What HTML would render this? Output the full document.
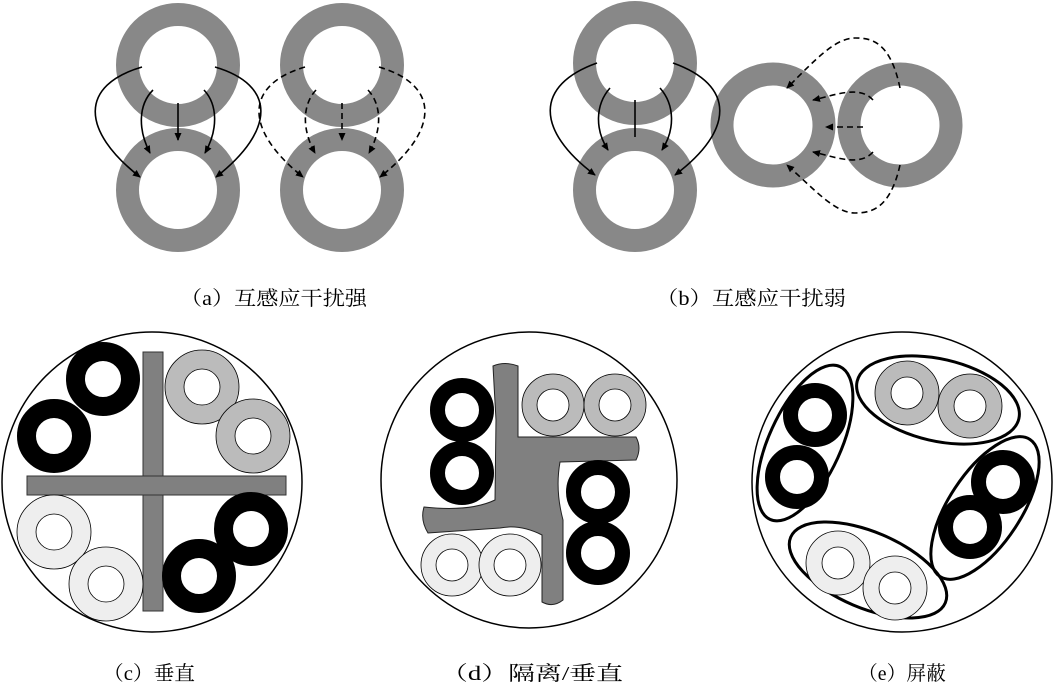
<!DOCTYPE html>
<html><head><meta charset="utf-8"><style>html,body{margin:0;padding:0;background:#fff}svg{display:block}</style></head>
<body>
<svg width="1053" height="686" viewBox="0 0 1053 686" xmlns="http://www.w3.org/2000/svg">
<defs>
<marker id="ah" markerWidth="8" markerHeight="8" refX="7" refY="4" orient="auto" markerUnits="userSpaceOnUse">
<path d="M0,0.5 L8,4 L0,7.5 z" fill="#000"/></marker>
</defs>
<g fill="none" stroke="#888" stroke-width="23">
<circle cx="178" cy="65" r="50.5"/><circle cx="178" cy="190" r="50.5"/>
<circle cx="342" cy="65" r="50.5"/><circle cx="342" cy="190" r="50.5"/>
<circle cx="635" cy="63" r="50.5"/><circle cx="635" cy="190" r="50.5"/>
<circle cx="773" cy="125" r="51"/><circle cx="900" cy="125" r="51"/>
</g>
<g fill="none" stroke="#000" stroke-width="1.6" marker-end="url(#ah)">
<path d="M142,67 C80,85 80,130 140,177"/>
<path d="M153,90 C138,105 138,130 150,153"/>
<path d="M178,103 L178,140"/>
<path d="M204,90 C218,105 218,130 205,153"/>
<path d="M215,67 C276,85 276,130 216,177"/>
<path d="M597,63 C535,85 535,130 595,175"/>
<path d="M610,88 C595,105 595,130 608,150"/>
<path d="M660,88 C675,105 675,130 662,150"/>
<path d="M673,63 C735,85 735,130 675,175"/>
</g>
<path d="M635,100 L635,137" stroke="#000" stroke-width="1.6"/>
<g fill="none" stroke="#000" stroke-width="1.6" stroke-dasharray="6,4" marker-end="url(#ah)">
<path d="M305,67 C244,85 244,130 303,177"/>
<path d="M316,90 C302,105 302,130 315,153"/>
<path d="M342,103 L342,140"/>
<path d="M368,90 C382,105 382,130 369,153"/>
<path d="M379,67 C440,85 440,130 380,177"/>
<path d="M900,88 C890,40 870,38 855,38 C835,38 815,60 787,88"/>
<path d="M873,100 C860,85 835,95 813,100"/>
<path d="M863,127 L826,127"/>
<path d="M873,152 C860,167 835,157 813,152"/>
<path d="M900,165 C890,210 870,213 855,213 C835,213 815,190 787,165"/>
</g>
<g font-family="'Liberation Serif','Noto Serif CJK SC',serif" font-size="20" fill="#000">
<text x="180" y="305" textLength="187" lengthAdjust="spacingAndGlyphs">（a）互感应干扰强</text>
<text x="656" y="305" textLength="190" lengthAdjust="spacingAndGlyphs">（b）互感应干扰弱</text>
<text x="103" y="680" textLength="92" lengthAdjust="spacingAndGlyphs">（c）垂直</text>
<text x="441" y="680" textLength="182" lengthAdjust="spacingAndGlyphs">（d）隔离/垂直</text>
<text x="858" y="680" textLength="88" lengthAdjust="spacingAndGlyphs">（e）屏蔽</text>
</g>
<!-- (c) -->
<circle cx="152" cy="482" r="150" fill="#fff" stroke="#000" stroke-width="1.5"/>
<rect x="143" y="352" width="20" height="259" fill="#808080" stroke="#333" stroke-width="1"/>
<rect x="27" y="476" width="259" height="19" fill="#808080" stroke="#333" stroke-width="1"/>
<rect x="143.5" y="476.5" width="19" height="18" fill="#808080"/>
<g fill="none" stroke="#000" stroke-width="19">
<circle cx="103" cy="379" r="27.5"/><circle cx="54" cy="436" r="27.5"/>
<circle cx="251" cy="529" r="27.5"/><circle cx="199" cy="576" r="27.5"/>
</g>
<g stroke="#000" stroke-width="0.8">
<circle cx="202" cy="387" r="37" fill="#bbb"/><circle cx="202" cy="387" r="18" fill="#fff"/>
<circle cx="253" cy="436" r="37" fill="#bbb"/><circle cx="253" cy="436" r="18" fill="#fff"/>
<circle cx="54" cy="532" r="37" fill="#eee"/><circle cx="54" cy="532" r="18" fill="#fff"/>
<circle cx="106" cy="584" r="37" fill="#eee"/><circle cx="106" cy="584" r="18" fill="#fff"/>
</g>
<!-- (d) -->
<circle cx="529" cy="480" r="148" fill="#fff" stroke="#000" stroke-width="1.5"/>
<path d="M493,366 Q505,361 518,366 L518,437 L636,437 Q642,448 636,460 L560,462 Q555,490 563,520 L563,600 Q553,608 542,602 L542,535 Q520,524 500,528 L428,533 Q420,520 424,507 Q470,512 495,500 L496,420 Z" fill="#808080" stroke="#222" stroke-width="1"/>
<g fill="none" stroke="#000" stroke-width="15">
<circle cx="462" cy="410" r="24.5"/><circle cx="462" cy="473" r="24.5"/>
<circle cx="598" cy="492" r="24.5"/><circle cx="598" cy="553" r="24.5"/>
</g>
<g stroke="#000" stroke-width="0.8">
<circle cx="553" cy="405" r="31" fill="#bbb"/><circle cx="553" cy="405" r="16" fill="#fff"/>
<circle cx="615" cy="405" r="31" fill="#bbb"/><circle cx="615" cy="405" r="16" fill="#fff"/>
<circle cx="452" cy="565" r="31" fill="#eee"/><circle cx="452" cy="565" r="16" fill="#fff"/>
<circle cx="510" cy="565" r="31" fill="#eee"/><circle cx="510" cy="565" r="16" fill="#fff"/>
</g>
<!-- (e) -->
<circle cx="902" cy="482" r="150" fill="#fff" stroke="#000" stroke-width="1.5"/>
<g fill="none" stroke="#000" stroke-width="3">
<ellipse cx="938" cy="400" rx="83" ry="41" transform="rotate(13 938 400)"/>
<ellipse cx="805" cy="443" rx="84" ry="36" transform="rotate(-65.4 805 443)"/>
<ellipse cx="985" cy="508" rx="82" ry="36" transform="rotate(-56.7 985 508)"/>
<ellipse cx="868" cy="570" rx="84" ry="38" transform="rotate(23 868 570)"/>
</g>
<g fill="none" stroke="#000" stroke-width="15">
<circle cx="815" cy="415" r="24.5"/><circle cx="797" cy="477" r="24.5"/>
<circle cx="1003" cy="482" r="24.5"/><circle cx="970" cy="527" r="24.5"/>
</g>
<g stroke="#000" stroke-width="0.8">
<circle cx="907" cy="393" r="32" fill="#bbb"/><circle cx="907" cy="393" r="16" fill="#fff"/>
<circle cx="970" cy="406" r="32" fill="#bbb"/><circle cx="970" cy="406" r="16" fill="#fff"/>
<circle cx="838" cy="563" r="32" fill="#eee"/><circle cx="838" cy="563" r="16" fill="#fff"/>
<circle cx="895" cy="588" r="32" fill="#eee"/><circle cx="895" cy="588" r="16" fill="#fff"/>
</g>
</svg>
</body></html>
